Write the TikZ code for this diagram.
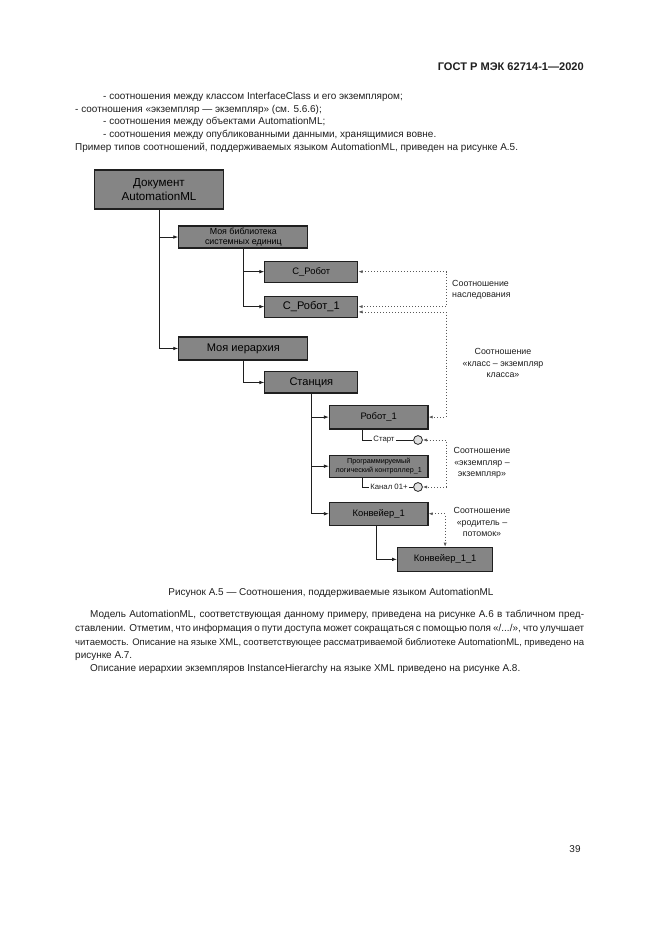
\documentclass[tikz,border=0pt]{standalone}
\usepackage{fontspec}
\setmainfont{Liberation Sans}
\usetikzlibrary{positioning, arrows.meta}
\definecolor{boxgray}{rgb}{0.52,0.52,0.52}
\definecolor{ink}{rgb}{0.12,0.12,0.12}
\definecolor{dotgray}{rgb}{0.35,0.35,0.35}
\tikzset{
  unit/.style={draw=ink, line width=1pt, fill=boxgray, align=center, inner sep=0.5pt, text=black},
  txt/.style={anchor=west, inner sep=0pt, text=ink, font=\fontsize{9}{11}\selectfont},
  rel/.style={dotgray, dotted, line width=0.7pt, {Latex[length=3.8pt,width=2.8pt]}-{Latex[length=3.8pt,width=2.8pt]}},
  relnote/.style={align=center, inner sep=0pt, text=ink, font=\fontsize{8}{10.3}\selectfont},
  elbow/.style={ink, line width=0.7pt, -{Latex[length=4.5pt,width=3.2pt]}, to path={|- (\tikztotarget)}},
  port/.style={circle, draw=ink, line width=0.7pt, fill=gray!25, minimum size=8pt, inner sep=0pt},
  pin/.style={inner sep=1pt, text=ink, font=\fontsize{7}{8}\selectfont}
}
\begin{document}
\begin{tikzpicture}[x=0.03177cm, y=-0.03177cm, node distance=2cm, on grid]
\fill[white] (0,0) rectangle (661,935);
\useasboundingbox (0,0) rectangle (661,935);

% page text
\node (head) [anchor=east, inner sep=0pt, text=ink, font=\fontsize{10}{12}\selectfont\bfseries] at (584,67) {ГОСТ Р МЭК 62714-1—2020};
\node (t1) [txt] at (103,97) {- соотношения между классом InterfaceClass и его экземпляром;};
\node (t2) [txt] at (75,110) {- соотношения «экземпляр — экземпляр» (см. 5.6.6);};
\node (t3) [txt] at (103,122) {- соотношения между объектами AutomationML;};
\node (t4) [txt] at (103,135) {- соотношения между опубликованными данными, хранящимися вовне.};
\node (t5) [txt] at (75,148) {Пример типов соотношений, поддерживаемых языком AutomationML, приведен на рисунке А.5.};

% tree
\node (doc) [unit, minimum width=4.07cm, minimum height=1.24cm, font=\fontsize{10.5}{12.5}\selectfont] at (159,189.5) {Документ\\AutomationML};
\node (lib) [unit, below right = 1.51cm and 2.68cm of doc, minimum width=4.10cm, minimum height=0.70cm, font=\fontsize{8}{9}\selectfont] {Моя библиотека\\системных единиц};
\node (crob) [unit, below right = 1.10cm and 2.16cm of lib, minimum width=2.95cm, minimum height=0.67cm, font=\fontsize{8.5}{10}\selectfont] {С\_Робот};
\node (crob1) [unit, below = 1.11cm of crob, minimum width=2.95cm, minimum height=0.67cm, font=\fontsize{10}{12}\selectfont] {С\_Робот\_1};
\node (hier) [unit, below = 3.54cm of lib, minimum width=4.10cm, minimum height=0.73cm, font=\fontsize{10}{12}\selectfont] {Моя иерархия};
\node (stat) [unit, below right = 1.08cm and 2.16cm of hier, minimum width=2.95cm, minimum height=0.67cm, font=\fontsize{10}{12}\selectfont] {Станция};
\node (rob1) [unit, below right = 1.10cm and 2.14cm of stat, minimum width=3.13cm, minimum height=0.76cm, font=\fontsize{8.5}{10}\selectfont] {Робот\_1};
\node (plc) [unit, below = 1.56cm of rob1, minimum width=3.13cm, minimum height=0.70cm, font=\fontsize{6.5}{7.5}\selectfont] {Программируемый\\логический контроллер\_1};
\node (conv) [unit, below = 1.51cm of plc, minimum width=3.13cm, minimum height=0.73cm, font=\fontsize{8.5}{10}\selectfont] {Конвейер\_1};
\node (conv11) [unit, below right = 1.45cm and 2.11cm of conv, minimum width=3.02cm, minimum height=0.76cm, font=\fontsize{8.5}{10}\selectfont] {Конвейер\_1\_1};

% interfaces
\node (start) [pin] at (384,440) {Старт};
\node (p1) [port] at (418,440) {};
\node (chan) [pin] at (389,487) {Канал 01+};
\node (p2) [port] at (418,487) {};
\coordinate (rx) at (446,0);

\path [elbow]
    (doc) edge (lib)
    (doc) edge (hier)
    (lib) edge (crob)
    (lib) edge (crob1)
    (hier) edge (stat)
    (stat) edge (rob1)
    (stat) edge (plc)
    (stat) edge (conv)
    ([xshift=-0.06cm]conv.south) edge (conv11);
\draw [ink, line width=0.7pt] ([xshift=1.05cm]rob1.south west) |- (start) (start) -- (p1);
\draw [ink, line width=0.7pt] ([xshift=1.05cm]plc.south west) |- (chan) (chan) -- (p2);

% relations
\draw [rel] (crob.east) -| (rx |- crob1.east) -- (crob1.east);
\draw [rel] ([yshift=-0.17cm]crob1.east) -| (rx |- rob1.east) -- (rob1.east);
\draw [rel] (p1) -| (rx |- p2) -- (p2);
\draw [rel] (conv) -| (conv11);
\node (n1) [relnote, align=left, anchor=west] at (452,289.5) {Соотношение\\наследования};
\node (n2) [relnote] at (503,363) {Соотношение\\«класс – экземпляр\\класса»};
\node (n3) [relnote] at (482,463) {Соотношение\\«экземпляр –\\экземпляр»};
\node (n4) [relnote] at (482,522) {Соотношение\\«родитель –\\потомок»};

% caption and text below
\node (cap) [inner sep=0pt, text=ink, font=\fontsize{9}{11}\selectfont] at (331,593) {Рисунок А.5 — Соотношения, поддерживаемые языком AutomationML};
\node (b1) [txt] at (90,615) {\makebox[15.69cm][s]{Модель AutomationML, соответствующая данному примеру, приведена на рисунке А.6 в табличном пред-}};
\node (b2) [txt] at (75,629) {\makebox[16.17cm][s]{ставлении. Отметим, что информация о пути доступа может сокращаться с помощью поля «/.../», что улучшает}};
\node (b3) [txt, font=\fontsize{8.6}{11}\selectfont] at (75,643) {\makebox[16.17cm][s]{читаемость. Описание на языке XML, соответствующее рассматриваемой библиотеке AutomationML, приведено на}};
\node (b4) [txt] at (75,656) {рисунке А.7.};
\node (b5) [txt] at (90,669) {Описание иерархии экземпляров InstanceHierarchy на языке XML приведено на рисунке А.8.};
\node (pg) [inner sep=0pt, text=ink, font=\fontsize{9}{11}\selectfont] at (575,849) {39};
\end{tikzpicture}
\end{document}
